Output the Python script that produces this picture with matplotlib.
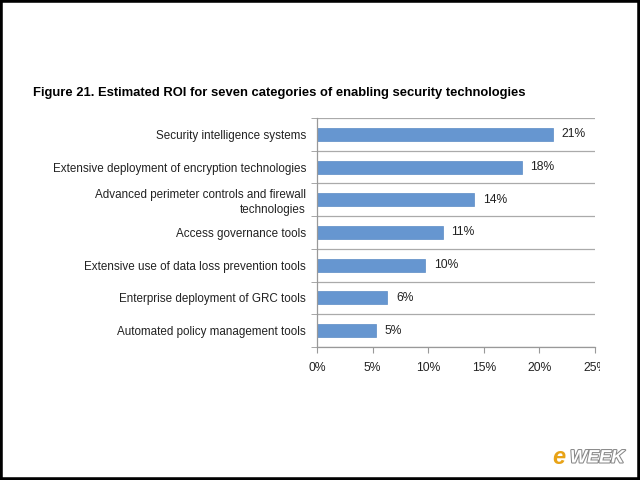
import matplotlib
matplotlib.use("Agg")
import matplotlib.pyplot as plt
import matplotlib.ticker as mtick
import matplotlib.patheffects as pe
from matplotlib.transforms import Bbox

plt.rcParams['font.family'] = ['Liberation Sans', 'DejaVu Sans']

categories = [
    "Security intelligence systems",
    "Extensive deployment of encryption technologies",
    "Advanced perimeter controls and firewall\ntechnologies",
    "Access governance tools",
    "Extensive use of data loss prevention tools",
    "Enterprise deployment of GRC tools",
    "Automated policy management tools",
]
roi = [21.2, 18.4, 14.1, 11.3, 9.7, 6.3, 5.3]
xticks = [0, 5, 10, 15, 20, 25]
title = "Figure 21. Estimated ROI for seven categories of enabling security technologies"

fig = plt.figure(figsize=(6.4, 4.8), dpi=100)
fig.patch.set_facecolor("white")

ax = fig.add_axes([0.4953, 0.2771, 0.4344, 0.4771])
ypos = list(range(len(categories)))
ax.barh(ypos, roi, height=0.4, color="#6696D0", edgecolor="#5B8BC5", linewidth=0.5)
ax.set_ylim(len(categories) - 0.5, -0.5)
ax.set_xlim(0, 25)

for y, v in zip(ypos, roi):
    ax.text(v + 0.8, y, f"{v:.0f}%", va="center", ha="left", fontsize=8.7, color="#222222")

# category labels and boundary ticks
ax.set_yticks(ypos)
ax.set_yticklabels(categories, fontsize=8.4, color="#222222", ma="right", linespacing=1.3)
ax.tick_params(axis="y", which="major", length=0, pad=8)
ax.set_yticks([i - 0.5 for i in range(len(categories) + 1)], minor=True)
ax.tick_params(axis="y", which="minor", length=4, color="#999999", direction="out")

ax.set_xticks(xticks)
ax.xaxis.set_major_formatter(mtick.FormatStrFormatter('%d%%'))
ax.tick_params(axis="x", length=4, color="#999999", labelsize=8.7, labelcolor="#222222", pad=7)

ax.grid(axis="y", which="minor", color="#aaaaaa", linewidth=0.9)
ax.set_axisbelow(True)
for s in ["top", "right"]:
    ax.spines[s].set_visible(False)
for s in ["left", "bottom"]:
    ax.spines[s].set_color("#999999")
    ax.spines[s].set_linewidth(0.9)

fig.text(33 / 640, 1 - 93 / 480, title, fontsize=9.4, fontweight="bold", va="center", ha="left")

# page edge cuts the last tick label
fig.canvas.draw()
clip = Bbox.from_extents(0, 0, 600, 480)
for lab in ax.get_xticklabels():
    lab.set_clip_box(clip)
    lab.set_clip_on(True)

# watermark
fig.text(552 / 640, 1 - 458 / 480, "e", fontsize=17, fontweight="bold", style="italic",
         color="#E8A317", ha="left", va="center")
fig.text(570 / 640, 1 - 458 / 480, "WEEK", fontsize=13, fontweight="bold", style="italic",
         color="white", ha="left", va="center",
         path_effects=[pe.withStroke(linewidth=1.5, foreground="#888888")])

# slide border
fig.patches.append(plt.Rectangle((0, 0), 1, 1, transform=fig.transFigure, fill=False,
                                 edgecolor="black", linewidth=4, zorder=10))

fig.savefig("out.png", dpi=100)
